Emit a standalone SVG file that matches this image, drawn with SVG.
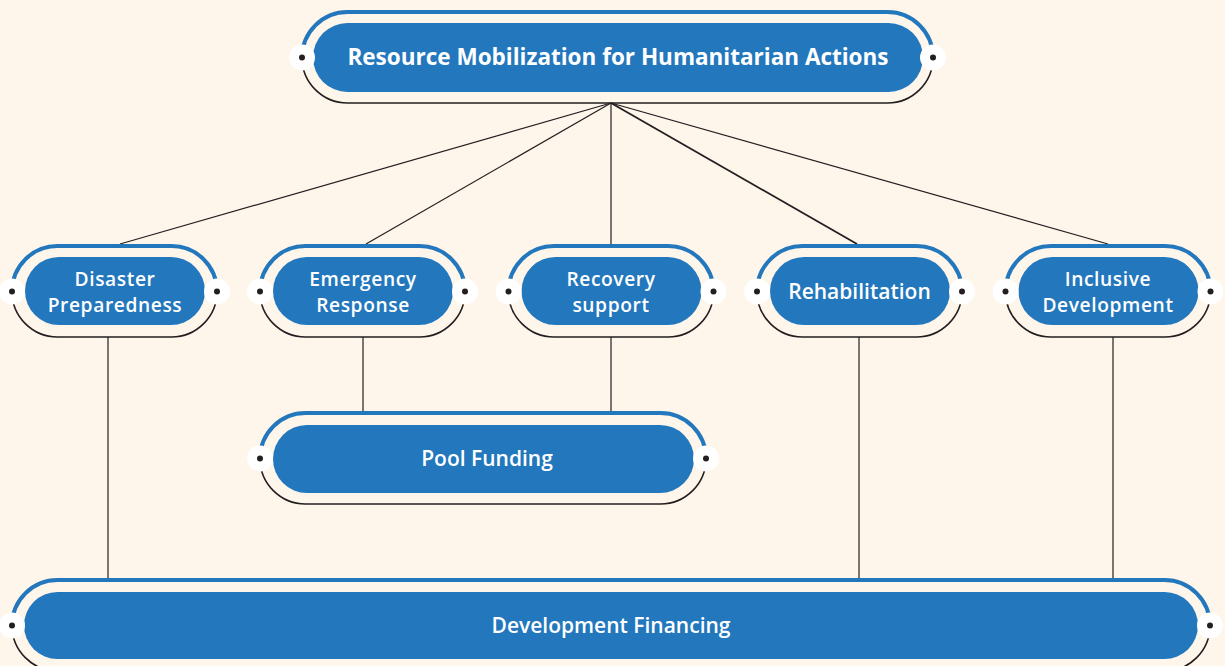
<svg xmlns="http://www.w3.org/2000/svg" width="1225" height="666" viewBox="0 0 1225 666">
<style>
.top{fill:none;stroke:#2277BD;stroke-width:4}
.bot{fill:none;stroke:#231F20;stroke-width:1.6}
.fill{fill:#2277BD}
.knob{fill:#FFFFFF}
.dot{fill:#231F20}
.conn{stroke:#231F20;stroke-width:1.2;fill:none}
.t{font-family:"Open Sans","Liberation Sans",sans-serif;fill:#FFFFFF;text-anchor:middle}
.t1{font-size:22.5px;font-weight:700}
.t2{font-size:21px;font-weight:600}
.t3{font-size:19.2px;font-weight:600;letter-spacing:0.6px}
</style>
<rect width="1225" height="666" fill="#FEF5EB"/>
<g id="connectors">
<line class="conn" x1="611" y1="103" x2="120" y2="244"/>
<line class="conn" x1="611" y1="103" x2="366" y2="244"/>
<line class="conn" x1="611" y1="103" x2="611" y2="244"/>
<line class="conn" x1="611" y1="103" x2="857" y2="244" style="stroke-width:1.8"/>
<line class="conn" x1="611" y1="103" x2="1108" y2="244"/>
<line class="conn" x1="108" y1="337" x2="108" y2="580"/>
<line class="conn" x1="363" y1="337" x2="363" y2="413"/>
<line class="conn" x1="611" y1="337" x2="611" y2="413"/>
<line class="conn" x1="859" y1="337" x2="859" y2="580"/>
<line class="conn" x1="1113" y1="337" x2="1113" y2="580"/>
</g>
<g id="node-title">
<path class="top" d="M302,57.5 A45.5,45.5 0 0 1 347.5,12 H887.5 A45.5,45.5 0 0 1 933,57.5"/>
<path class="bot" d="M302,57.5 A45.5,45.5 0 0 0 347.5,103 H887.5 A45.5,45.5 0 0 0 933,57.5"/>
<rect class="fill" x="313" y="23" width="610" height="69" rx="34.5"/>
<circle class="knob" cx="302" cy="57.5" r="13"/><circle class="dot" cx="302" cy="57.5" r="3"/>
<circle class="knob" cx="933" cy="57.5" r="13"/><circle class="dot" cx="933" cy="57.5" r="3"/>
<text class="t t1" x="618" y="65">Resource Mobilization for Humanitarian Actions</text>
</g>
<g id="node-disaster">
<path class="top" d="M12,291.5 A45.5,45.5 0 0 1 57.5,246 H171.5 A45.5,45.5 0 0 1 217,291.5"/>
<path class="bot" d="M12,291.5 A45.5,45.5 0 0 0 57.5,337 H171.5 A45.5,45.5 0 0 0 217,291.5"/>
<rect class="fill" x="25" y="257" width="180" height="68" rx="34"/>
<circle class="knob" cx="12" cy="291.5" r="13"/><circle class="dot" cx="12" cy="291.5" r="3"/>
<circle class="knob" cx="217" cy="291.5" r="13"/><circle class="dot" cx="217" cy="291.5" r="3"/>
<text class="t t3"><tspan x="115" y="285.5">Disaster</tspan><tspan x="115" y="312">Preparedness</tspan></text>
</g>
<g id="node-emergency">
<path class="top" d="M260,291.5 A45.5,45.5 0 0 1 305.5,246 H419.5 A45.5,45.5 0 0 1 465,291.5"/>
<path class="bot" d="M260,291.5 A45.5,45.5 0 0 0 305.5,337 H419.5 A45.5,45.5 0 0 0 465,291.5"/>
<rect class="fill" x="273" y="257" width="180" height="68" rx="34"/>
<circle class="knob" cx="260" cy="291.5" r="13"/><circle class="dot" cx="260" cy="291.5" r="3"/>
<circle class="knob" cx="465" cy="291.5" r="13"/><circle class="dot" cx="465" cy="291.5" r="3"/>
<text class="t t3"><tspan x="363" y="285.5">Emergency</tspan><tspan x="363" y="312">Response</tspan></text>
</g>
<g id="node-recovery">
<path class="top" d="M508.5,291.5 A45.5,45.5 0 0 1 554,246 H668 A45.5,45.5 0 0 1 713.5,291.5"/>
<path class="bot" d="M508.5,291.5 A45.5,45.5 0 0 0 554,337 H668 A45.5,45.5 0 0 0 713.5,291.5"/>
<rect class="fill" x="521.5" y="257" width="180" height="68" rx="34"/>
<circle class="knob" cx="508.5" cy="291.5" r="13"/><circle class="dot" cx="508.5" cy="291.5" r="3"/>
<circle class="knob" cx="713.5" cy="291.5" r="13"/><circle class="dot" cx="713.5" cy="291.5" r="3"/>
<text class="t t3"><tspan x="611" y="285.5">Recovery</tspan><tspan x="611" y="312">support</tspan></text>
</g>
<g id="node-rehabilitation">
<path class="top" d="M757,291.5 A45.5,45.5 0 0 1 802.5,246 H916.5 A45.5,45.5 0 0 1 962,291.5"/>
<path class="bot" d="M757,291.5 A45.5,45.5 0 0 0 802.5,337 H916.5 A45.5,45.5 0 0 0 962,291.5"/>
<rect class="fill" x="770" y="257" width="180" height="68" rx="34"/>
<circle class="knob" cx="757" cy="291.5" r="13"/><circle class="dot" cx="757" cy="291.5" r="3"/>
<circle class="knob" cx="962" cy="291.5" r="13"/><circle class="dot" cx="962" cy="291.5" r="3"/>
<text class="t t2" x="859.5" y="299">Rehabilitation</text>
</g>
<g id="node-inclusive">
<path class="top" d="M1005.5,291.5 A45.5,45.5 0 0 1 1051,246 H1165 A45.5,45.5 0 0 1 1210.5,291.5"/>
<path class="bot" d="M1005.5,291.5 A45.5,45.5 0 0 0 1051,337 H1165 A45.5,45.5 0 0 0 1210.5,291.5"/>
<rect class="fill" x="1018.5" y="257" width="180" height="68" rx="34"/>
<circle class="knob" cx="1005.5" cy="291.5" r="13"/><circle class="dot" cx="1005.5" cy="291.5" r="3"/>
<circle class="knob" cx="1210.5" cy="291.5" r="13"/><circle class="dot" cx="1210.5" cy="291.5" r="3"/>
<text class="t t3"><tspan x="1108" y="285.5">Inclusive</tspan><tspan x="1108" y="312">Development</tspan></text>
</g>
<g id="node-pool">
<path class="top" d="M260,458.5 A45.5,45.5 0 0 1 305.5,413 H660.5 A45.5,45.5 0 0 1 706,458.5"/>
<path class="bot" d="M260,458.5 A45.5,45.5 0 0 0 305.5,504 H660.5 A45.5,45.5 0 0 0 706,458.5"/>
<rect class="fill" x="273" y="425" width="421" height="68" rx="34"/>
<circle class="knob" cx="260" cy="458.5" r="13"/><circle class="dot" cx="260" cy="458.5" r="3"/>
<circle class="knob" cx="706" cy="458.5" r="13"/><circle class="dot" cx="706" cy="458.5" r="3"/>
<text class="t t2" x="487" y="466">Pool Funding</text>
</g>
<g id="node-development">
<path class="top" d="M12,625.5 A45.5,45.5 0 0 1 57.5,580 H1164.5 A45.5,45.5 0 0 1 1210,625.5"/>
<path class="bot" d="M12,625.5 A45.5,45.5 0 0 0 57.5,671 H1164.5 A45.5,45.5 0 0 0 1210,625.5"/>
<rect class="fill" x="24" y="592" width="1174" height="67" rx="33.5"/>
<circle class="knob" cx="12" cy="625.5" r="13"/><circle class="dot" cx="12" cy="625.5" r="3"/>
<circle class="knob" cx="1210" cy="625.5" r="13"/><circle class="dot" cx="1210" cy="625.5" r="3"/>
<text class="t t2" x="611" y="633">Development Financing</text>
</g>
</svg>
